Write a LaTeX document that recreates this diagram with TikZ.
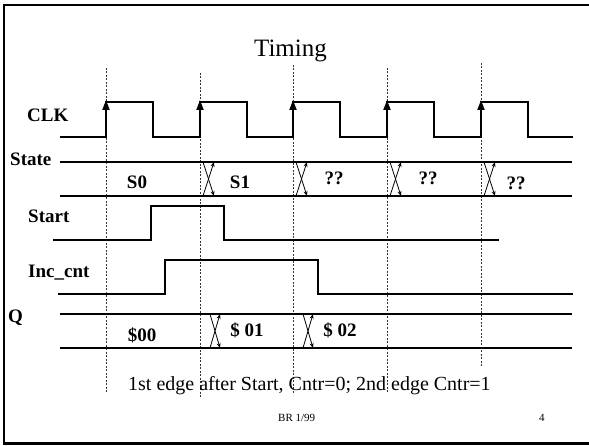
\documentclass[tikz,border=0pt]{standalone}
\usepackage{fontspec}
\setmainfont{Liberation Serif}
\usetikzlibrary{arrows.meta}

\begin{document}
\begin{tikzpicture}[
    x=1pt, y=-1pt,
    signal/.style={line width=1.6pt, black},
    busline/.style={line width=1.4pt, black},
    edgearrow/.style={-{Triangle[length=10pt,width=7pt]}, line width=2pt},
    crossarrow/.style={-{Stealth[length=5pt,width=4pt]}, line width=0.8pt},
    guide/.style={dashed, dash pattern=on 2pt off 1.5pt, line width=0.7pt, black!80},
    siglabel/.style={font=\fontsize{19}{22}\selectfont\bfseries, inner sep=0pt, anchor=base west},
    buslabel/.style={font=\fontsize{19}{22}\selectfont\bfseries, inner sep=0pt, anchor=base},
    notestyle/.style={inner sep=0pt, anchor=base west}
]
\useasboundingbox (0,0) rectangle (589,446);

% === Slide frame ===
\draw[line width=2.5pt] (589,5) -- (4,5) -- (4,443.5) -- (589,443.5);

% === Title ===
\node[font=\fontsize{25}{30}\selectfont, inner sep=0pt, anchor=base] (title) at (290.5,57) {Timing};

% === Clock edge guides ===
\foreach \x/\top/\bot in {106/68/393, 200/73/398, 293/65/393, 387/68/393, 481/63/367}
  \draw[guide] (\x,\top) -- (\x,\bot);

% === CLK ===
\node[siglabel] (clk) at (27,122) {CLK};
\draw[signal] (60,137) foreach \r in {106,200,293,387,481} {-- (\r,137) -- (\r,102) -- (\r+47,102) -- (\r+47,137)} -- (573,137);
\foreach \r in {106,200,293,387,481}
  \draw[edgearrow] (\r,137) -- (\r,100);

% === State bus ===
\node[siglabel] (state) at (10,166) {State};
\draw[busline] (60,162) -- (572,162);
\draw[busline] (60,196) -- (572,196);
\foreach \x in {200,293,387,481} {
  \draw[crossarrow] (\x+3,196) -- (\x+14,162);
  \draw[crossarrow] (\x+3,162) -- (\x+14,196);
}
\node[buslabel] (s0) at (137,189) {S0};
\node[buslabel] (s1) at (240,189) {S1};
\node[buslabel] (sa) at (334,185) {??};
\node[buslabel] (sb) at (428,185) {??};
\node[buslabel] (sc) at (516,190) {??};

% === Start ===
\node[siglabel] (start) at (28,223) {Start};
\draw[signal] (53,240) -- (151,240) -- (151,206) -- (224,206) -- (224,240) -- (499,240);

% === Inc_cnt ===
\node[siglabel] (inc) at (28,278) {Inc\_cnt};
\draw[signal] (58,294) -- (165,294) -- (165,260) -- (318,260) -- (318,294) -- (573,294);

% === Q bus ===
\node[siglabel] (q) at (8,323) {Q};
\draw[busline] (60,314) -- (572,314);
\draw[busline] (60,348) -- (572,348);
\foreach \x in {200,293} {
  \draw[crossarrow] (\x+10,348) -- (\x+20,314);
  \draw[crossarrow] (\x+10,314) -- (\x+20,348);
}
\node[buslabel] (q0) at (142,341.5) {\$00};
\node[buslabel] (q1) at (247,336.5) {\$ 01};
\node[buslabel] (q2) at (340,336.5) {\$ 02};

% === Notes ===
\node[notestyle, font=\fontsize{20}{24}\selectfont] (note) at (128,390) {1st edge after Start, Cntr=0; 2nd edge Cntr=1};
\node[notestyle, font=\fontsize{11}{13}\selectfont] (footer) at (278,421.5) {BR 1/99};
\node[notestyle, font=\fontsize{11}{13}\selectfont] (page) at (539,421) {4};

\end{tikzpicture}
\end{document}
